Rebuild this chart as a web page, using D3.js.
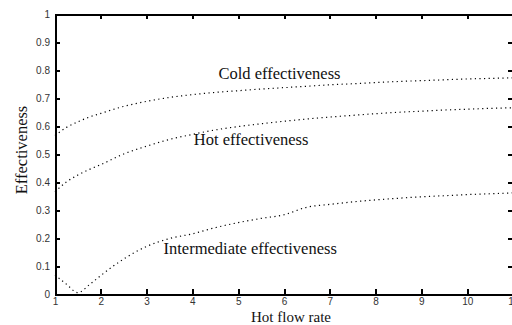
<!DOCTYPE html>
<html><head><meta charset="utf-8">
<script src="https://cdn.jsdelivr.net/npm/d3@7"></script>
<style>body{margin:0;background:#fff}svg{display:block}</style>
</head><body>
<svg id="c" width="512" height="325"></svg>
<script>
const hotFlow = [1,1.25,1.5,1.75,2,2.5,3,3.5,4,4.5,5,5.5,6,6.5,7,7.5,8,8.5,9,9.5,10,10.5,11];
const coldEff = [0.566,0.595,0.615,0.632,0.645,0.67,0.688,0.702,0.712,0.72,0.726,0.732,0.737,0.742,0.747,0.751,0.755,0.759,0.762,0.765,0.768,0.77,0.772];
const hotEff = [0.365,0.40,0.425,0.445,0.462,0.50,0.528,0.552,0.57,0.586,0.598,0.608,0.617,0.625,0.632,0.638,0.644,0.649,0.653,0.657,0.66,0.663,0.665];
const interEff = [0.068,0.035,0.005,0.033,0.066,0.125,0.17,0.198,0.215,0.237,0.255,0.27,0.283,0.31,0.32,0.329,0.336,0.342,0.347,0.351,0.355,0.358,0.361];
const xTicks = [1,2,3,4,5,6,7,8,9,10,11];
const yTicks = [0,0.1,0.2,0.3,0.4,0.5,0.6,0.7,0.8,0.9,1];
const labels = [
  {text:"Cold effectiveness", x:4.57, y:0.768},
  {text:"Hot effectiveness", x:4.03, y:0.531},
  {text:"Intermediate effectiveness", x:3.37, y:0.143}
];
const xLabel = "Hot flow rate", yLabel = "Effectiveness";

const svg = d3.select("#c");
const L=55, R=513, T=14, B=294;
const x = d3.scaleLinear().domain([1,11]).range([L,R]);
const y = d3.scaleLinear().domain([0,1]).range([B,T]);
const tickFont = "Arial, 'Liberation Sans', sans-serif";
const serif = "'Times New Roman', 'Liberation Serif', serif";

// curves
const line = d3.line().x((d,i)=>x(hotFlow[i])).y(d=>y(d)).curve(d3.curveMonotoneX);
[coldEff,hotEff,interEff].forEach(s=>{
  svg.append("path").attr("d",line(s)).attr("fill","none").attr("stroke","#000")
    .attr("stroke-width",1.2).attr("stroke-dasharray","1.2,3.4");
});

// axes
const ax = svg.append("g").attr("transform",`translate(0,${B})`)
  .call(d3.axisBottom(x).tickValues(xTicks).tickFormat(d3.format("d")).tickSizeInner(-5).tickSizeOuter(0).tickPadding(4));
const ay = svg.append("g").attr("transform",`translate(${L},0)`)
  .call(d3.axisLeft(y).tickValues(yTicks).tickFormat(d=>d===0||d===1?d3.format("d")(d):d3.format(".1f")(d)).tickSizeInner(-5).tickSizeOuter(0).tickPadding(5));
const axT = svg.append("g").attr("transform",`translate(0,${T})`)
  .call(d3.axisTop(x).tickValues(xTicks).tickFormat("").tickSizeInner(-5).tickSizeOuter(0));
const ayR = svg.append("g").attr("transform",`translate(${R},0)`)
  .call(d3.axisRight(y).tickValues(yTicks).tickFormat("").tickSizeInner(-5).tickSizeOuter(0));
[ax,ay,axT,ayR].forEach(g=>{
  g.select(".domain").attr("stroke","#000").attr("stroke-width",2).attr("shape-rendering","crispEdges");
  g.selectAll(".tick line").attr("stroke","#000").attr("stroke-width",2).attr("shape-rendering","crispEdges");
  g.selectAll(".tick text").attr("font-family",tickFont).attr("font-size",10).attr("fill","#333");
});

// in-plot labels
svg.selectAll("text.lab").data(labels).enter().append("text").attr("class","lab")
  .attr("x",d=>x(d.x)).attr("y",d=>y(d.y)).text(d=>d.text)
  .attr("font-family",serif).attr("font-size",16.5).attr("fill","#111");

svg.append("text").attr("x",291).attr("y",321.5).attr("text-anchor","middle")
  .attr("font-family",serif).attr("font-size",15).attr("fill","#111").text(xLabel);
svg.append("text").attr("transform","translate(27,150) rotate(-90)").attr("text-anchor","middle")
  .attr("font-family",serif).attr("font-size",16.5).attr("fill","#111").text(yLabel);
</script>
</body></html>
